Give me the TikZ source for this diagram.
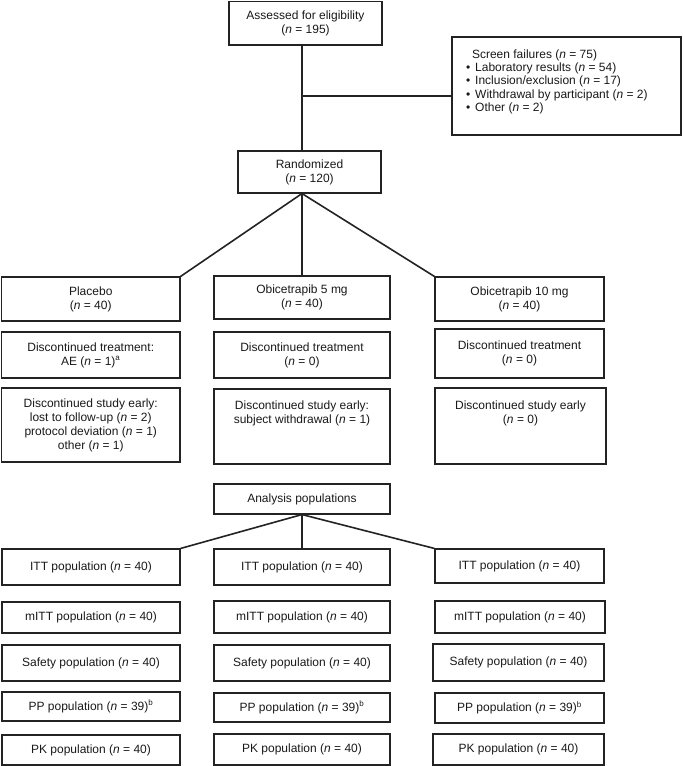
\documentclass[tikz,border=0pt]{standalone}
\usepackage{fontspec}
\setmainfont{Liberation Sans}
\definecolor{linec}{RGB}{35,35,35}
\definecolor{textc}{RGB}{25,25,25}
\newcommand\ncount[1]{(\textit{n}~=~#1)}
\newcommand\bx[6]{\node[box, minimum width={#4-#2}, minimum height={#5-#3}] (#1) at ({(#2+#4)/2},{(#3+#5)/2}) {#6};}
\begin{document}
\begin{tikzpicture}[x=1pt,y=-1pt,
  box/.style={draw=linec, line width=1.1pt, inner sep=0pt, align=center, text=textc, font=\fontsize{12}{14}\selectfont},
  conn/.style={draw=linec, line width=1.6pt}]
\useasboundingbox (0,0) rectangle (685,766);
% top part
\bx{assess}{229}{1.5}{382}{45}{Assessed for eligibility\\\ncount{195}}
\bx{screen}{452}{37}{681}{135}{\parbox[c][98pt][t]{229pt}{\raggedright\fontsize{12}{13.4}\selectfont\vspace*{12.5pt}%
\hspace*{20pt}Screen failures \ncount{75}\\
\hspace*{14pt}\textbullet\hspace{5pt}Laboratory results \ncount{54}\\
\hspace*{14pt}\textbullet\hspace{5pt}Inclusion/exclusion \ncount{17}\\
\hspace*{14pt}\textbullet\hspace{5pt}Withdrawal by participant \ncount{2}\\
\hspace*{14pt}\textbullet\hspace{5pt}Other \ncount{2}}}
\bx{rand}{238}{151}{381}{193}{Randomized\\\ncount{120}}
% arms
\bx{plac}{1.5}{277}{180}{321}{Placebo\\\ncount{40}}
\bx{ob5}{214}{276}{390}{319}{Obicetrapib 5 mg\\\ncount{40}}
\bx{ob10}{435}{277}{604}{321}{Obicetrapib 10 mg\\\ncount{40}}
\bx{dtp}{1.5}{332}{180}{378}{Discontinued treatment:\\AE \ncount{1}\textsuperscript{a}}
\bx{dt5}{214}{332}{390}{378}{Discontinued treatment\\\ncount{0}}
\bx{dt10}{435}{329}{604}{378}{Discontinued treatment\\\ncount{0}}
\bx{dsp}{1.5}{388}{180}{462}{Discontinued study early:\\lost to follow-up \ncount{2}\\protocol deviation \ncount{1}\\other \ncount{1}}
\bx{ds5}{214}{389}{390}{464}{Discontinued study early:\\subject withdrawal \ncount{1}\\~\\~}
\bx{ds10}{435}{388}{606}{464}{Discontinued study early\\\ncount{0}\\~\\~}
% analysis
\bx{anal}{214}{484}{390}{514}{Analysis populations}
\bx{ittp}{2}{549}{180}{585}{ITT population \ncount{40}}
\bx{itt5}{214}{549}{390}{585}{ITT population \ncount{40}}
\bx{itt10}{435}{549}{604}{583}{ITT population \ncount{40}}
\bx{mittp}{2}{602}{180}{633}{mITT population \ncount{40}}
\bx{mitt5}{214}{601}{390}{633}{mITT population \ncount{40}}
\bx{mitt10}{435}{601}{605}{633}{mITT population \ncount{40}}
\bx{safp}{2}{645}{180}{681}{Safety population \ncount{40}}
\bx{saf5}{214}{645}{390}{681}{Safety population \ncount{40}}
\bx{saf10}{433}{644}{604}{681}{Safety population \ncount{40}}
\bx{ppp}{2}{692}{180}{721}{PP population \ncount{39}\textsuperscript{b}}
\bx{pp5}{214}{693}{390}{722}{PP population \ncount{39}\textsuperscript{b}}
\bx{pp10}{435}{693}{604}{723}{PP population \ncount{39}\textsuperscript{b}}
\bx{pkp}{2}{735}{180}{765}{PK population \ncount{40}}
\bx{pk5}{214}{734}{390}{765}{PK population \ncount{40}}
\bx{pk10}{433}{734}{604}{765}{PK population \ncount{40}}
% connectors
\coordinate (jn) at (302,96);
\draw[conn] (assess.south -| jn) -- (rand.north -| jn);
\draw[conn] (jn) -- (screen.west |- jn);
\draw[conn] (rand.south -| jn) -- (plac.north east);
\draw[conn] (rand.south -| jn) -- (ob5.north -| jn);
\draw[conn] (rand.south -| jn) -- (ob10.north west);
\draw[conn] (anal.south -| jn) -- (ittp.north east);
\draw[conn] (anal.south -| jn) -- (itt5.north -| jn);
\draw[conn] (anal.south -| jn) -- (itt10.north west);
\end{tikzpicture}
\end{document}
